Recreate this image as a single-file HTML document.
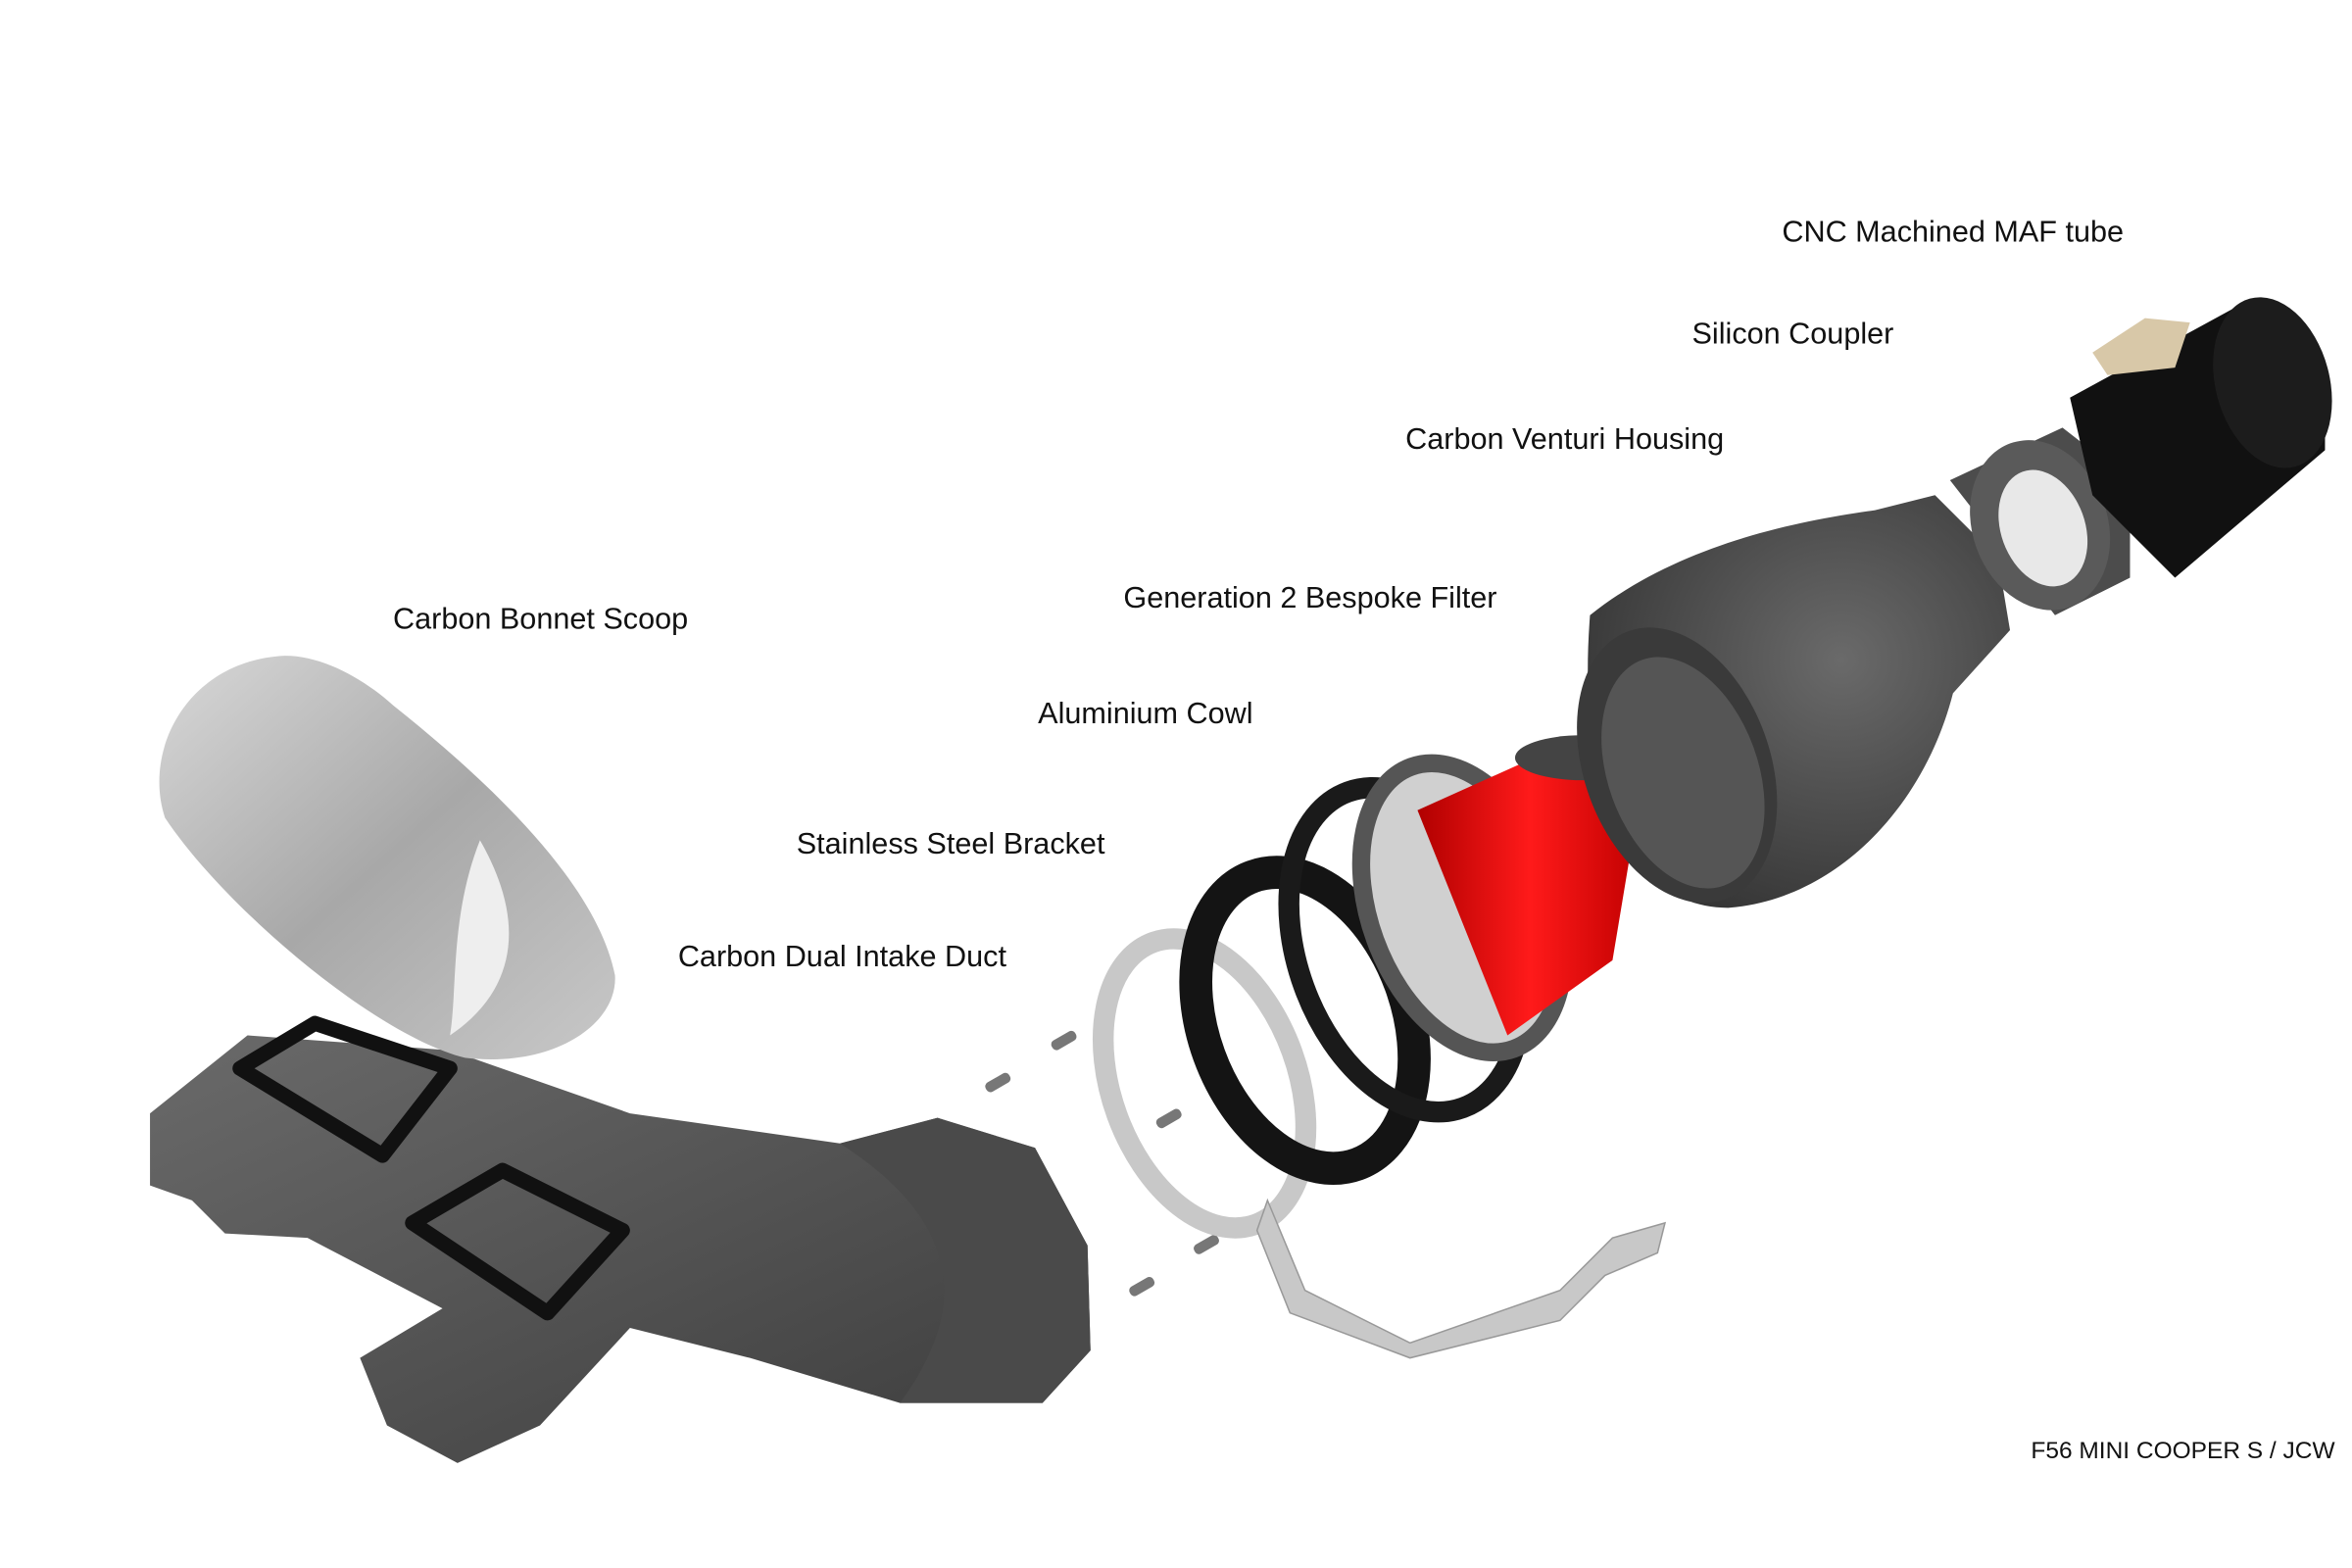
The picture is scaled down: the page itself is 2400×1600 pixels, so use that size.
<!DOCTYPE html>
<html><head><meta charset="utf-8"><style>
html,body{margin:0;padding:0;background:#fff;width:2400px;height:1600px;overflow:hidden}
svg{display:block}
text{font-family:"Liberation Sans",Arial,sans-serif;fill:#111}
</style></head><body>
<svg width="2400" height="1600" viewBox="0 0 1568 1045" preserveAspectRatio="none" xmlns="http://www.w3.org/2000/svg">
<defs>
<linearGradient id="scoop" x1="0" y1="0" x2="1" y2="1"><stop offset="0" stop-color="#d8d8d8"/><stop offset="0.5" stop-color="#a8a8a8"/><stop offset="1" stop-color="#c8c8c8"/></linearGradient>
<linearGradient id="duct" x1="0" y1="0" x2="1" y2="1"><stop offset="0" stop-color="#6a6a6a"/><stop offset="1" stop-color="#3c3c3c"/></linearGradient>
<radialGradient id="vent" cx="0.6" cy="0.4" r="0.7"><stop offset="0" stop-color="#6a6a6a"/><stop offset="1" stop-color="#333"/></radialGradient>
<linearGradient id="red" x1="0" y1="0" x2="1" y2="0"><stop offset="0" stop-color="#b00000"/><stop offset="0.5" stop-color="#ff1a1a"/><stop offset="1" stop-color="#c00000"/></linearGradient>
</defs>
<rect width="1568" height="1045" fill="#fff"/>

<!-- base duct -->
<path d="M100,742 L165,690 L300,700 L420,742 L560,762 L625,745 L690,765 L725,830 L727,900 L695,935 L600,935 L500,905 L420,885 L360,950 L305,975 L258,950 L240,905 L295,872 L205,825 L150,822 L128,800 L100,790Z" fill="url(#duct)"/>
<path d="M560,762 L625,745 L690,765 L725,830 L727,900 L695,935 L600,935 C640,880 650,820 560,762Z" fill="#4a4a4a"/>
<path d="M160,712 L210,682 L300,712 L255,770 Z" fill="none" stroke="#111" stroke-width="10" stroke-linejoin="round"/>
<path d="M275,815 L335,780 L415,820 L365,875 Z" fill="none" stroke="#111" stroke-width="10" stroke-linejoin="round"/>

<!-- bonnet scoop -->
<path d="M190,437 C125,440 95,500 110,545 C150,605 250,690 310,705 C370,712 412,682 410,650 C400,600 350,540 262,470 C242,452 215,437 190,437Z" fill="url(#scoop)"/>
<path d="M300,690 C330,670 360,630 320,560 C300,610 305,660 300,690Z" fill="#eee"/>

<!-- screws -->
<g fill="#777">
<rect x="700" y="690" width="18" height="7" rx="3" transform="rotate(-30 709 693)"/>
<rect x="656" y="718" width="18" height="7" rx="3" transform="rotate(-30 665 721)"/>
<rect x="770" y="742" width="18" height="7" rx="3" transform="rotate(-30 779 745)"/>
<rect x="795" y="826" width="18" height="7" rx="3" transform="rotate(-30 804 829)"/>
<rect x="752" y="854" width="18" height="7" rx="3" transform="rotate(-30 761 857)"/>
</g>

<!-- bracket -->
<ellipse cx="803" cy="722" rx="62" ry="100" transform="rotate(-20 803 722)" fill="none" stroke="#c8c8c8" stroke-width="14"/>
<path d="M845,800 L870,860 L940,895 L1040,860 L1075,825 L1110,815 L1105,835 L1070,850 L1040,880 L940,905 L860,875 L838,820Z" fill="#c8c8c8" stroke="#999" stroke-width="1"/>

<!-- rings -->
<ellipse cx="870" cy="680" rx="68" ry="102" transform="rotate(-20 870 680)" fill="none" stroke="#141414" stroke-width="22"/>
<ellipse cx="937" cy="633" rx="72" ry="112" transform="rotate(-20 937 633)" fill="none" stroke="#1a1a1a" stroke-width="14"/>

<!-- filter -->
<ellipse cx="975" cy="605" rx="62" ry="100" transform="rotate(-20 975 605)" fill="#d0d0d0" stroke="#555" stroke-width="12"/>
<path d="M945,540 L1045,495 L1095,520 L1075,640 L1005,690 Z" fill="url(#red)"/>
<ellipse cx="1055" cy="505" rx="45" ry="15" fill="#444"/>

<!-- venturi -->
<path d="M1060,410 C1120,362 1200,347 1250,340 L1290,330 L1332,372 L1340,420 L1302,462 C1282,540 1222,600 1152,605 C1092,605 1050,540 1060,410Z" fill="url(#vent)"/>
<ellipse cx="1118" cy="510" rx="62" ry="95" transform="rotate(-20 1118 510)" fill="#3a3a3a"/>
<ellipse cx="1122" cy="515" rx="50" ry="80" transform="rotate(-20 1122 515)" fill="#555"/>

<!-- coupler -->
<path d="M1300,320 L1375,285 L1420,320 L1420,385 L1370,410 Z" fill="#4c4c4c"/>
<ellipse cx="1360" cy="350" rx="45" ry="58" transform="rotate(-20 1360 350)" fill="#5a5a5a"/>
<ellipse cx="1362" cy="352" rx="28" ry="40" transform="rotate(-20 1362 352)" fill="#e8e8e8"/>

<!-- MAF tube -->
<path d="M1380,265 L1490,205 L1550,250 L1550,300 L1450,385 L1395,330 Z" fill="#111"/>
<ellipse cx="1515" cy="255" rx="38" ry="58" transform="rotate(-15 1515 255)" fill="#1c1c1c"/>
<path d="M1395,235 L1430,212 L1460,215 L1450,245 L1405,250 Z" fill="#d8c8a8"/>

<!-- labels -->
<g font-size="20">
<text x="1188" y="161">CNC Machined MAF tube</text>
<text x="1128" y="229">Silicon Coupler</text>
<text x="937" y="299">Carbon Venturi Housing</text>
<text x="749" y="405">Generation 2 Bespoke Filter</text>
<text x="692" y="482">Aluminium Cowl</text>
<text x="531" y="569">Stainless Steel Bracket</text>
<text x="452" y="644">Carbon Dual Intake Duct</text>
<text x="262" y="419">Carbon Bonnet Scoop</text>
</g>
<text x="1354" y="972" font-size="16">F56 MINI COOPER S / JCW</text>
</svg>
</body></html>
